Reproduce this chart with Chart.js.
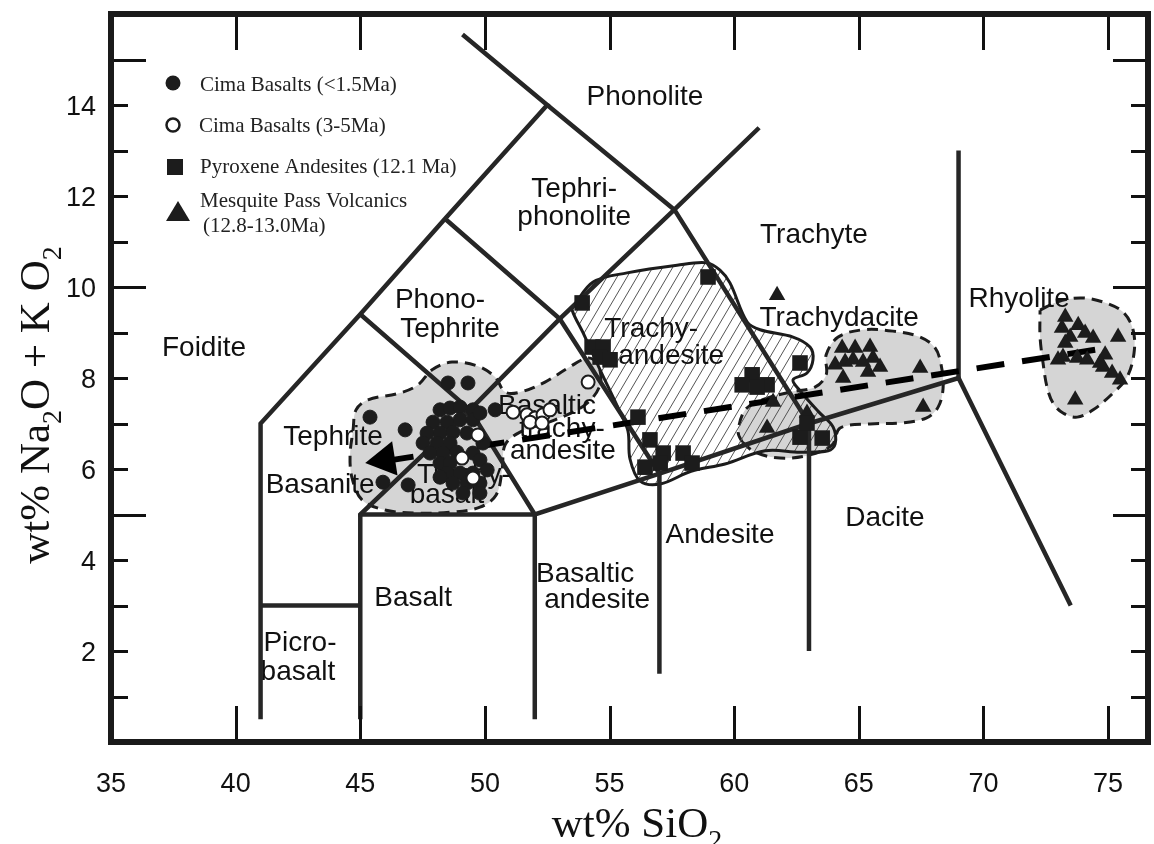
<!DOCTYPE html>
<html>
<head>
<meta charset="utf-8">
<title>TAS diagram - Cima / Mesquite Pass</title>
<script src="https://cdn.jsdelivr.net/npm/chart.js@4.4.1/dist/chart.umd.min.js"></script>
<style>
  html, body { margin: 0; padding: 0; background: #fff; }
  #wrap { width: 1154px; height: 844px; }
</style>
</head>
<body>
<div id="wrap"><canvas id="tas" width="1154" height="844"></canvas></div>
<script>
// ===================================
// DATA
// ===================================
const siO2Ticks = [35, 40, 45, 50, 55, 60, 65, 70, 75];
const alkaliTicks = [2, 4, 6, 8, 10, 12, 14];

// Cima Basalts (<1.5Ma) - filled circles
const cimaYoungSiO2 = [48.52, 49.32, 45.39, 46.80, 50.41, 45.91, 46.92, 48.20, 48.60, 49.00, 49.52, 47.92, 48.48, 49.00,
  49.52, 47.68, 48.20, 48.72, 49.28, 47.52, 48.08, 48.60, 47.80, 48.32, 48.88, 49.52, 48.20, 48.60, 49.80, 50.09,
  48.48, 49.00, 49.52, 48.72, 49.28, 49.80, 49.12, 49.80, 49.80, 49.92, 48.20];
const cimaYoungAlk = [7.89, 7.89, 7.14, 6.86, 7.30, 5.71, 5.65, 7.30, 7.34, 7.36, 7.30, 7.03, 7.03, 7.08,
  7.08, 6.79, 6.79, 6.81, 6.79, 6.57, 6.57, 6.57, 6.35, 6.35, 6.37, 6.35, 6.13, 6.13, 6.20, 5.98,
  5.91, 5.91, 5.91, 5.69, 5.69, 5.69, 5.47, 5.47, 7.23, 6.57, 5.82];

// Cima Basalts (3-5Ma) - open circles
const cimaOldSiO2 = [49.72, 49.08, 49.52, 54.14, 51.13, 51.69, 52.01, 52.33, 51.81, 52.29, 52.61];
const cimaOldAlk = [6.75, 6.24, 5.80, 7.91, 7.25, 7.19, 7.12, 7.19, 7.03, 7.01, 7.30];

// Pyroxene Andesites (12.1 Ma) - squares
const pyroxSiO2 = [58.95, 53.90, 54.30, 54.74, 54.62, 55.02, 62.64, 60.72, 60.32, 61.32, 60.92, 56.14, 56.62,
  57.15, 56.42, 57.03, 57.95, 58.31, 62.64, 63.53, 62.92];
const pyroxAlk = [10.22, 9.65, 8.68, 8.68, 8.46, 8.40, 8.33, 8.07, 7.85, 7.85, 7.80, 7.14, 6.64,
  6.35, 6.04, 6.13, 6.35, 6.13, 6.70, 6.68, 7.01];

// Mesquite Pass Volcanics (12.8-13.0Ma) - triangles
const mesquiteSiO2 = [61.72, 64.33, 64.85, 65.45, 64.05, 64.45, 64.77, 65.17, 65.57, 65.85, 64.37, 65.37, 67.46,
  67.58, 61.32, 61.56, 62.92,
  73.28, 73.15, 73.80, 73.48, 74.08, 74.40, 73.28, 73.19, 73.76, 74.16, 74.88, 74.80, 75.16, 75.48, 75.40,
  73.68, 72.99, 74.68];
const mesquiteAlk = [9.82, 8.66, 8.66, 8.68, 8.29, 8.35, 8.40, 8.35, 8.44, 8.24, 8.00, 8.13, 8.22,
  7.36, 6.90, 7.47, 7.23,
  9.34, 9.10, 9.16, 8.90, 8.99, 8.88, 8.77, 8.46, 8.44, 8.40, 8.51, 8.24, 8.11, 7.96, 8.90,
  7.52, 8.40, 8.33];

// dashed trend line and its arrow head
const trendSiO2 = [74.48, 46.30];
const trendAlk = [8.62, 6.20];
const arrowSiO2 = [45.99];
const arrowAlk = [6.20];

// TAS field boundaries (Le Bas et al.)
const tasBoundaries = [
  [[41, 0.5], [41, 7], [45, 9.4], [48.4, 11.5], [52.5, 14], [49.1, 15.55]],
  [[41, 3], [45, 3]],
  [[45, 0.5], [45, 5], [49.4, 7.3], [53, 9.3], [57.6, 11.7], [61, 13.5]],
  [[45, 5], [52, 5], [57, 5.9], [63, 7], [69, 8], [73.5, 3]],
  [[52, 0.5], [52, 5]],
  [[57, 1.5], [57, 5.9]],
  [[63, 2], [63, 7]],
  [[69, 8], [69, 13]],
  [[45, 9.4], [49.4, 7.3], [52, 5]],
  [[48.4, 11.5], [53, 9.3], [57, 5.9]],
  [[52.5, 14], [57.6, 11.7], [63, 7]]
];

// outlined compositional fields
const cimaField = [[44.71, 6.86], [44.83, 7.30], [45.31, 7.52], [46.59, 7.67], [47.32, 7.85], [47.88, 8.18],
  [48.68, 8.35], [49.72, 8.26], [50.41, 8.02], [50.81, 7.69], [51.41, 7.69], [52.41, 7.91], [53.33, 8.22],
  [54.14, 8.44], [54.54, 8.29], [54.62, 7.85], [54.02, 7.41], [52.81, 7.08], [51.41, 6.81], [50.81, 6.53],
  [50.69, 5.98], [50.45, 5.43], [49.80, 5.16], [48.60, 5.05], [47.20, 5.03], [45.99, 5.10], [45.07, 5.32],
  [44.67, 5.80], [44.59, 6.31], [44.71, 6.86]];
const pyroxField = [[53.58, 9.60], [54.34, 10.11], [55.70, 10.31], [57.71, 10.48], [58.91, 10.53], [59.43, 10.37],
  [59.83, 10.09], [60.52, 9.23], [61.04, 9.06], [62.36, 8.90], [63.04, 8.68], [63.16, 8.40], [62.92, 8.11],
  [62.36, 7.96], [62.64, 7.72], [63.40, 7.25], [63.97, 6.92], [64.05, 6.55], [63.77, 6.40], [62.64, 6.37],
  [61.24, 6.40], [59.63, 6.11], [58.27, 5.95], [57.03, 5.67], [56.22, 5.74], [55.82, 6.22], [55.74, 6.83],
  [55.42, 7.25], [54.62, 8.18], [53.94, 8.99], [53.50, 9.49], [53.58, 9.60]];
const mesquiteField = [[60.32, 6.59], [60.16, 6.81], [60.44, 7.30], [61.12, 7.52], [62.24, 7.69], [63.24, 7.80],
  [63.69, 8.07], [63.69, 8.51], [64.17, 8.90], [65.17, 9.06], [66.37, 9.03], [67.46, 8.90], [68.06, 8.66],
  [68.30, 8.29], [68.38, 7.78], [68.18, 7.36], [67.70, 7.12], [66.66, 7.01], [65.45, 6.99], [64.25, 6.90],
  [63.93, 6.53], [63.04, 6.31], [61.84, 6.24], [60.84, 6.37], [60.32, 6.59]];
const rhyoliteField = [[72.27, 9.49], [72.95, 9.67], [73.88, 9.76], [74.80, 9.67], [75.60, 9.45], [76.00, 9.06],
  [76.04, 8.55], [75.76, 8.02], [75.20, 7.67], [74.40, 7.30], [73.76, 7.14], [73.19, 7.23], [72.79, 7.45],
  [72.55, 7.80], [72.39, 8.33], [72.27, 8.90], [72.27, 9.49]];

// field names, anchored in data units (centre of baseline)
const fieldLabels = [
  { text: 'Phonolite', x: 56.42, y: 14.00 },
  { text: 'Tephri-', x: 53.58, y: 11.98 },
  { text: 'phonolite', x: 53.58, y: 11.36 },
  { text: 'Trachyte', x: 63.20, y: 10.97 },
  { text: 'Phono-', x: 48.20, y: 9.54 },
  { text: 'Tephrite', x: 48.60, y: 8.90 },
  { text: 'Foidite', x: 38.73, y: 8.48 },
  { text: 'Trachy-', x: 56.67, y: 8.90 },
  { text: 'andesite', x: 57.47, y: 8.31 },
  { text: 'Trachydacite', x: 64.21, y: 9.14 },
  { text: 'Rhyolite', x: 71.43, y: 9.56 },
  { text: 'Tephrite', x: 43.91, y: 6.53 },
  { text: 'Basanite', x: 43.39, y: 5.47 },
  { text: 'Trachy-', x: 49.16, y: 5.69 },
  { text: 'basalt', x: 48.48, y: 5.25 },
  { text: 'Basaltic', x: 52.49, y: 7.21 },
  { text: 'trachy-', x: 53.09, y: 6.70 },
  { text: 'andesite', x: 53.13, y: 6.22 },
  { text: 'Andesite', x: 59.43, y: 4.37 },
  { text: 'Dacite', x: 66.05, y: 4.75 },
  { text: 'Basalt', x: 47.12, y: 2.99 },
  { text: 'Basaltic', x: 54.02, y: 3.52 },
  { text: 'andesite', x: 54.50, y: 2.95 },
  { text: 'Picro-', x: 42.58, y: 2.00 },
  { text: 'basalt', x: 42.50, y: 1.36 }
];

// ===================================
// HELPERS
// ===================================
const INK = '#1c1c1c';
const SANS = '"Liberation Sans", Arial, Helvetica, sans-serif';
const SERIF = '"Liberation Serif", "Times New Roman", Times, serif';

const toPoints = (xs, ys) => xs.map((v, i) => ({ x: v, y: ys[i] }));
const fromPairs = (pairs) => pairs.map(p => ({ x: p[0], y: p[1] }));

function makeHatch() {
  const c = document.createElement('canvas');
  c.width = 10;
  c.height = 17;
  const g = c.getContext('2d');
  g.strokeStyle = '#555';
  g.lineWidth = 1;
  g.beginPath();
  for (let k = -1; k <= 1; k++) {
    g.moveTo(k * 10, 17);
    g.lineTo(k * 10 + 10, 0);
  }
  g.stroke();
  return g.createPattern(c, 'repeat');
}

function pointSet(label, xs, ys, style, radius, fill, border, bw) {
  return {
    label: label,
    data: toPoints(xs, ys),
    showLine: false,
    pointStyle: style,
    pointRadius: radius,
    pointBackgroundColor: fill,
    pointBorderColor: border,
    pointBorderWidth: bw
  };
}

function fieldSet(label, pairs, bg, dashed) {
  return {
    label: label,
    data: fromPairs(pairs),
    showLine: true,
    pointRadius: 0,
    borderColor: INK,
    borderWidth: 3,
    borderDash: dashed ? [11, 7] : [],
    backgroundColor: bg,
    fill: 'shape',
    tension: 0.35
  };
}

// ===================================
// DATASETS (index 0 is drawn on top)
// ===================================
const datasets = [
  pointSet('Cima Basalts (3-5Ma)', cimaOldSiO2, cimaOldAlk, 'circle', 6.5, '#ffffff', INK, 2),
  pointSet('Cima Basalts (<1.5Ma)', cimaYoungSiO2, cimaYoungAlk, 'circle', 7, INK, INK, 1),
  pointSet('Pyroxene Andesites (12.1 Ma)', pyroxSiO2, pyroxAlk, 'rect', 11, INK, INK, 0),
  pointSet('Mesquite Pass Volcanics (12.8-13.0Ma)', mesquiteSiO2, mesquiteAlk, 'triangle', 9.5, INK, INK, 0),
  Object.assign(pointSet('arrow', arrowSiO2, arrowAlk, 'triangle', 20, '#000', '#000', 0), { pointRotation: 261 }),
  {
    label: 'trend',
    data: toPoints(trendSiO2, trendAlk),
    showLine: true,
    pointRadius: 0,
    borderColor: '#000',
    borderWidth: 6,
    borderDash: [28, 18],
    fill: false
  }
];
const trendIndex = datasets.length - 1;

tasBoundaries.forEach((line, i) => {
  datasets.push({
    label: 'boundary ' + i,
    data: fromPairs(line),
    showLine: true,
    pointRadius: 0,
    borderColor: '#262626',
    borderWidth: 4.5,
    fill: false,
    tension: 0
  });
});

datasets.push(fieldSet('pyroxene field', pyroxField, makeHatch(), false));
datasets.push(fieldSet('cima field', cimaField, '#d5d5d5', true));
datasets.push(fieldSet('mesquite field', mesquiteField, '#d5d5d5', true));
datasets.push(fieldSet('rhyolite field', rhyoliteField, '#d5d5d5', true));

// ===================================
// DECORATION PLUGIN (frame, ticks, titles, legend, field names)
// ===================================
function drawSubText(ctx, parts, size, family) {
  // parts: [text, isSub]; draws from current origin along +x
  let w = 0;
  parts.forEach(([t, sub]) => {
    ctx.font = (sub ? Math.round(size * 0.65) : size) + 'px ' + family;
    ctx.fillText(t, w, sub ? size * 0.28 : 0);
    w += ctx.measureText(t).width;
  });
  return w;
}
function measureSub(ctx, parts, size, family) {
  let w = 0;
  parts.forEach(([t, sub]) => {
    ctx.font = (sub ? Math.round(size * 0.65) : size) + 'px ' + family;
    w += ctx.measureText(t).width;
  });
  return w;
}

const tasDecor = {
  id: 'tasDecor',
  beforeDatasetDraw(chart, args) {
    if (args.index !== trendIndex) return;
    const { ctx, scales: { x, y } } = chart;
    ctx.save();
    ctx.font = '28px ' + SANS;
    ctx.fillStyle = '#111';
    ctx.textAlign = 'center';
    ctx.textBaseline = 'alphabetic';
    fieldLabels.forEach(l => ctx.fillText(l.text, x.getPixelForValue(l.x), y.getPixelForValue(l.y)));
    ctx.restore();
  },
  afterDraw(chart) {
    const { ctx, chartArea: a, scales: { x, y } } = chart;
    ctx.save();
    ctx.strokeStyle = '#111';
    ctx.fillStyle = '#111';

    // inward ticks
    ctx.lineWidth = 3;
    ctx.beginPath();
    for (let v = 1; v <= 15; v++) {
      const py = Math.round(y.getPixelForValue(v)) + 0.5;
      const len = v % 5 === 0 ? 35 : 17;
      ctx.moveTo(a.left, py); ctx.lineTo(a.left + len, py);
      ctx.moveTo(a.right, py); ctx.lineTo(a.right - len, py);
    }
    siO2Ticks.forEach(v => {
      if (v <= x.min) return;
      const px = Math.round(x.getPixelForValue(v)) + 0.5;
      ctx.moveTo(px, a.bottom); ctx.lineTo(px, a.bottom - 36);
      ctx.moveTo(px, a.top); ctx.lineTo(px, a.top + 36);
    });
    ctx.stroke();

    // frame
    ctx.lineWidth = 6;
    ctx.strokeStyle = '#1a1a1a';
    ctx.strokeRect(a.left, a.top, a.right - a.left, a.bottom - a.top);

    // tick labels
    ctx.font = '27px ' + SANS;
    ctx.fillStyle = '#111';
    ctx.textAlign = 'center';
    ctx.textBaseline = 'alphabetic';
    siO2Ticks.forEach(v => ctx.fillText(String(v), x.getPixelForValue(v), 792));
    ctx.textAlign = 'right';
    alkaliTicks.forEach(v => ctx.fillText(String(v), 96, y.getPixelForValue(v) + 10));

    // x title: wt% SiO2
    const xParts = [['wt% SiO', false], ['2', true]];
    const xw = measureSub(ctx, xParts, 43, SERIF);
    ctx.textAlign = 'left';
    ctx.save();
    ctx.translate(637 - xw / 2, 837);
    drawSubText(ctx, xParts, 43, SERIF);
    ctx.restore();

    // y title: wt% Na2O + K O2
    const yParts = [['wt% Na', false], ['2', true], ['O + K O', false], ['2', true]];
    const yw = measureSub(ctx, yParts, 43, SERIF);
    ctx.save();
    ctx.translate(49, 405 + yw / 2);
    ctx.rotate(-Math.PI / 2);
    drawSubText(ctx, yParts, 43, SERIF);
    ctx.restore();

    // legend
    ctx.fillStyle = INK;
    ctx.beginPath(); ctx.arc(173, 83, 7.5, 0, Math.PI * 2); ctx.fill();
    ctx.beginPath(); ctx.arc(173, 125, 6.5, 0, Math.PI * 2);
    ctx.fillStyle = '#fff'; ctx.fill();
    ctx.lineWidth = 2.5; ctx.strokeStyle = INK; ctx.stroke();
    ctx.fillStyle = INK;
    ctx.fillRect(167, 159, 16, 16);
    ctx.beginPath(); ctx.moveTo(178, 201); ctx.lineTo(190, 221); ctx.lineTo(166, 221); ctx.closePath(); ctx.fill();

    ctx.font = '21px ' + SERIF;
    ctx.fillStyle = '#222';
    ctx.textAlign = 'left';
    ctx.fillText('Cima Basalts (<1.5Ma)', 200, 91);
    ctx.fillText('Cima Basalts (3-5Ma)', 199, 132);
    ctx.fillText('Pyroxene Andesites (12.1 Ma)', 200, 173);
    ctx.fillText('Mesquite Pass Volcanics', 200, 207);
    ctx.fillText('(12.8-13.0Ma)', 203, 232);
    ctx.restore();
  }
};

// ===================================
// CHART
// ===================================
new Chart(document.getElementById('tas'), {
  type: 'scatter',
  data: { datasets: datasets },
  options: {
    responsive: false,
    animation: false,
    devicePixelRatio: 1,
    events: [],
    layout: { autoPadding: false, padding: { left: 111, right: 6, top: 14, bottom: 102 } },
    scales: {
      x: { type: 'linear', min: 35, max: 76.6, display: false },
      y: { type: 'linear', min: 0, max: 16, display: false }
    },
    plugins: {
      legend: { display: false },
      tooltip: { enabled: false }
    }
  },
  plugins: [tasDecor]
});
</script>
</body>
</html>
